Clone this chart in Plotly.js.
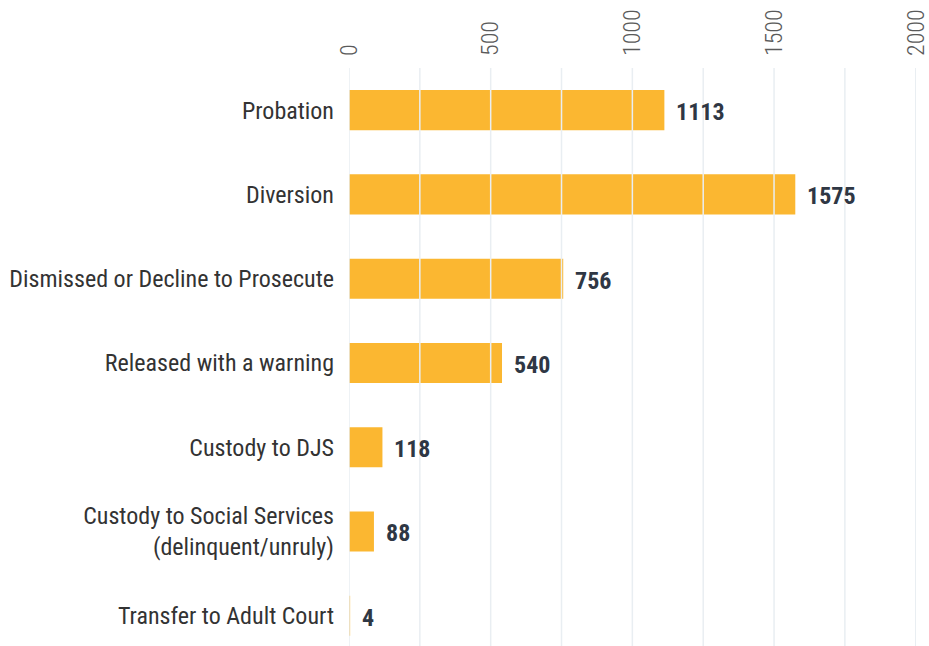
<!DOCTYPE html>
<html>
<head>
<meta charset="utf-8">
<script src="https://cdn.plot.ly/plotly-3.0.1.min.js"></script>
<style>html,body{margin:0;padding:0;background:#fff;}#chart{width:929px;height:646px;}</style>
</head>
<body>
<div id="chart"></div>
<script>
const categories = [
  "Probation",
  "Diversion",
  "Dismissed or Decline to Prosecute",
  "Released with a warning",
  "Custody to DJS",
  "Custody to Social Services<br>(delinquent/unruly)",
  "Transfer to Adult Court"
];
const values = [1113, 1575, 756, 540, 118, 88, 4];
const xTickVals = [0, 500, 1000, 1500, 2000];
const xTickText = ["0", "500", "1000", "1500", "2000"];
const gridVals = [0, 250, 500, 750, 1000, 1250, 1500, 1750, 2000];

const FONT = "'Roboto Condensed', 'Liberation Sans Narrow', 'DejaVu Sans Condensed', Roboto, sans-serif";
const GRID = "#e9eef2";

const trace = {
  type: "bar",
  orientation: "h",
  x: values,
  y: categories,
  width: 0.475,
  marker: {color: "#fbb731"},
  hoverinfo: "none"
};

const annotations = values.map((v, i) => ({
  x: v, y: categories[i], xref: "x", yref: "y",
  text: "<b>" + v + "</b>",
  showarrow: false, xanchor: "left", yanchor: "middle",
  xshift: 10, yshift: -2,
  font: {family: FONT, size: 24, color: "#2f3744"}
}));

const shapes = gridVals.map(g => ({
  type: "line", layer: "above",
  xref: "x", yref: "paper",
  x0: g, x1: g, y0: 0, y1: 1,
  line: {color: GRID, width: 1.5}
}));

const layout = {
  width: 929, height: 646,
  margin: {l: 349, r: 13, t: 68, b: 0, pad: 0},
  paper_bgcolor: "#fff", plot_bgcolor: "#fff",
  showlegend: false,
  font: {family: FONT},
  xaxis: {
    side: "top",
    range: [0, 2001],
    tickvals: xTickVals,
    ticktext: xTickText,
    tickangle: -90,
    tickfont: {family: FONT, size: 24, color: "#5a5a5a", weight: 300},
    ticklabeloverflow: "allow",
    showgrid: false,
    zeroline: false, showline: false, ticks: "",
    ticklabelstandoff: 11,
    fixedrange: true
  },
  yaxis: {
    type: "category",
    categoryorder: "array",
    categoryarray: categories,
    range: [6.36, -0.5],
    tickfont: {family: FONT, size: 24, color: "#333"},
    showgrid: false, zeroline: false, showline: false, ticks: "",
    ticklabelstandoff: 14,
    fixedrange: true
  },
  shapes: shapes,
  annotations: annotations
};

Plotly.newPlot("chart", [trace], layout, {displayModeBar: false, staticPlot: true});
</script>
</body>
</html>
